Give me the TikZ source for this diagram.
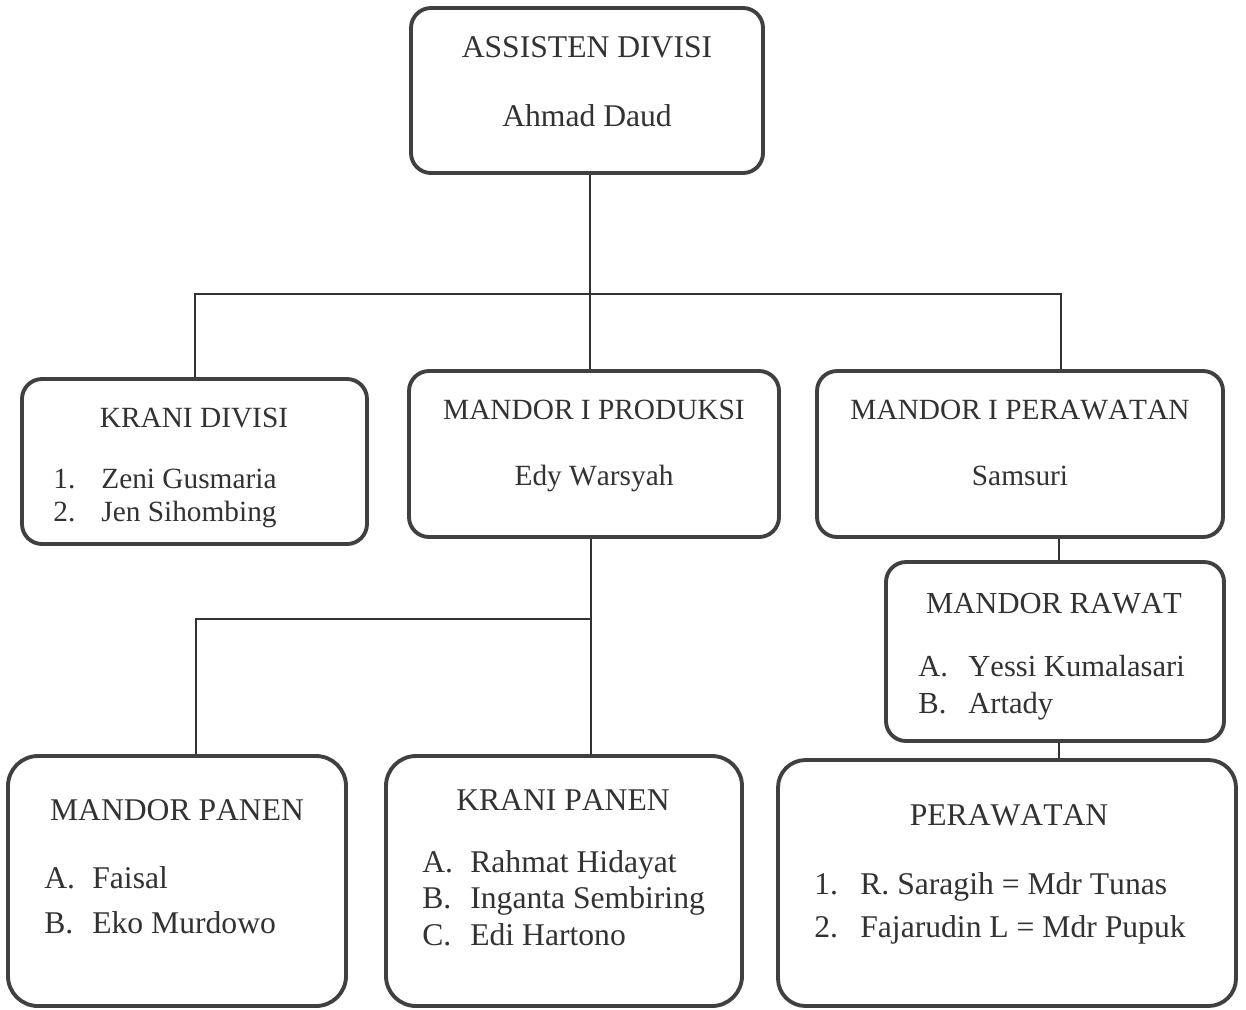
\documentclass[tikz,border=0pt]{standalone}
\usepackage{fontspec}
\setmainfont{Liberation Serif}[Kerning=Off]
\usepackage{tikz}
\usetikzlibrary{calc}
\definecolor{boxline}{RGB}{64,64,64}
\definecolor{inkgray}{RGB}{50,50,50}
\tikzstyle{orgbox}=[draw=boxline, line width=2.2pt, inner sep=0pt, fill=white]
\tikzstyle{link}=[draw=inkgray, line width=1pt]
\tikzstyle{bigtxt}=[inner sep=0pt, anchor=base, text=inkgray, font=\fontsize{18}{21}\selectfont]
\tikzstyle{midtxt}=[bigtxt, font=\fontsize{17.4}{21}\selectfont]
\tikzstyle{smalltxt}=[bigtxt, font=\fontsize{16.7}{20}\selectfont]
\tikzstyle{item}=[anchor=base west]
% box from pixel corners: name, left, top, right, bottom, corner radius
\newcommand{\orgBox}[6]{
	\node[orgbox, rounded corners=#6, minimum width={(#4-#2)*0.02cm}, minimum height={(#5-#3)*0.02cm}] (#1) at ({(#2+#4)/2},{(#3+#5)/2}) {};
}
\begin{document}
\begin{tikzpicture}[x=0.02cm, y=-0.02cm]
	\useasboundingbox (0,0) rectangle (1246,1009);
	\orgBox{asisten}{411}{8}{763}{173}{0.4cm}
	\orgBox{kranidiv}{22}{379}{367}{544}{0.4cm}
	\orgBox{produksi}{409}{371}{779}{537}{0.4cm}
	\orgBox{perawatanI}{817}{371}{1223}{537}{0.4cm}
	\orgBox{rawat}{886}{562}{1224}{741}{0.4cm}
	\orgBox{mpanen}{8}{756}{346}{1006}{0.6cm}
	\orgBox{kpanen}{386}{756}{742}{1006}{0.6cm}
	\orgBox{perawatan}{778}{760}{1236}{1006}{0.55cm}
	% bends of the connectors
	\coordinate (busL) at (195,294);
	\coordinate (trunk) at (590,294);
	\coordinate (busR) at (1061,294);
	\coordinate (subL) at (196,619);
	\coordinate (subR) at (591,619);
	\coordinate (rawatline) at (1059,650);
	\draw[link] (asisten.south -| trunk) -- (produksi.north -| trunk);
	\draw[link] (kranidiv.north -| busL) -- (busL) -- (busR) -- (perawatanI.north -| busR);
	\draw[link] (produksi.south -| subR) -- (kpanen.north -| subR);
	\draw[link] (subR) -- (subL) -- (mpanen.north -| subL);
	\draw[link] (perawatanI.south -| rawatline) -- (rawat.north -| rawatline);
	\draw[link] (rawat.south -| rawatline) -- (perawatan.north -| rawatline);
	% top
	\node[bigtxt] (asisten-t) at (587,57) {ASSISTEN DIVISI};
	\node[bigtxt] (asisten-n) at (587,126) {Ahmad Daud};
	% second row
	\node[smalltxt] (kranidiv-t) at (194,427) {KRANI DIVISI};
	\node[smalltxt, item] (kranidiv-1) at (53,488) {1.};
	\node[smalltxt, item] (kranidiv-1n) at (101,488) {Zeni Gusmaria};
	\node[smalltxt, item] (kranidiv-2) at (53,521) {2.};
	\node[smalltxt, item] (kranidiv-2n) at (101,521) {Jen Sihombing};
	\node[smalltxt] (produksi-t) at (594,419) {MANDOR I PRODUKSI};
	\node[smalltxt] (produksi-n) at (594,485) {Edy Warsyah};
	\node[smalltxt] (perawatanI-t) at (1020,419) {MANDOR I PERAWATAN};
	\node[smalltxt] (perawatanI-n) at (1020,485) {Samsuri};
	\node[midtxt] (rawat-t) at (1054,613) {MANDOR RAWAT};
	\node[midtxt, item] (rawat-a) at (918,676) {A.};
	\node[midtxt, item] (rawat-an) at (968,676) {Yessi Kumalasari};
	\node[midtxt, item] (rawat-b) at (918,713) {B.};
	\node[midtxt, item] (rawat-bn) at (968,713) {Artady};
	% bottom row
	\node[bigtxt] (mpanen-t) at (177,820) {MANDOR PANEN};
	\node[bigtxt, item] (mpanen-a) at (44,888) {A.};
	\node[bigtxt, item] (mpanen-an) at (92,888) {Faisal};
	\node[bigtxt, item] (mpanen-b) at (44,933) {B.};
	\node[bigtxt, item] (mpanen-bn) at (92,933) {Eko Murdowo};
	\node[bigtxt] (kpanen-t) at (563,810) {KRANI PANEN};
	\node[bigtxt, item] (kpanen-a) at (422,872) {A.};
	\node[bigtxt, item] (kpanen-an) at (470,872) {Rahmat Hidayat};
	\node[bigtxt, item] (kpanen-b) at (422,908) {B.};
	\node[bigtxt, item] (kpanen-bn) at (470,908) {Inganta Sembiring};
	\node[bigtxt, item] (kpanen-c) at (422,945) {C.};
	\node[bigtxt, item] (kpanen-cn) at (470,945) {Edi Hartono};
	\node[bigtxt] (perawatan-t) at (1009,825) {PERAWATAN};
	\node[bigtxt, item] (perawatan-1) at (814,894) {1.};
	\node[bigtxt, item] (perawatan-1n) at (860,894) {R. Saragih = Mdr Tunas};
	\node[bigtxt, item] (perawatan-2) at (814,937) {2.};
	\node[bigtxt, item] (perawatan-2n) at (860,937) {Fajarudin L = Mdr Pupuk};
\end{tikzpicture}
\end{document}
